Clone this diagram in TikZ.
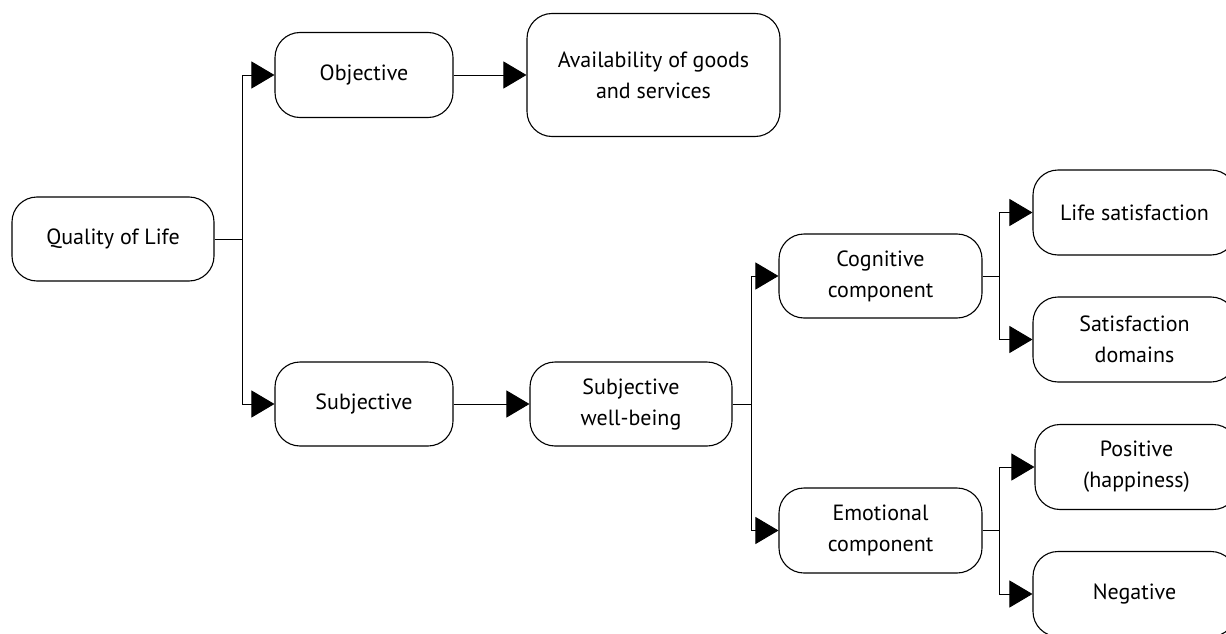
\documentclass[tikz,border=0pt]{standalone}
\usepackage{fontspec}
\setmainfont{PT Sans}
\usetikzlibrary{arrows.meta}
\begin{document}
\begin{tikzpicture}[x=1pt,y=-1pt,
  box/.style={draw,line width=1.1pt,rounded corners=25pt,align=center,
    font=\fontsize{22}{31}\selectfont,inner sep=0pt,minimum height=84pt},
  arr/.style={line width=0.9pt,-{Triangle[length=23pt,width=27pt]}},
  ln/.style={line width=0.9pt}]
\clip (0,0) rectangle (1226,634);
\useasboundingbox (0,0) rectangle (1226,634);
\node[box,minimum width=202pt] (qol) at (113,239) {Quality of Life};
\node[box,minimum width=178pt,minimum height=85pt] (obj) at (364,75) {Objective};
\node[box,minimum width=253pt,minimum height=123pt] (avail) at (653.5,75) {Availability of goods\\and services};
\node[box,minimum width=178pt] (subj) at (364,404) {Subjective};
\node[box,minimum width=202pt] (swb) at (631,404) {Subjective\\well-being};
\node[box,minimum width=203pt] (cog) at (880.5,276) {Cognitive\\component};
\node[box,minimum width=203pt,minimum height=85pt] (emo) at (880.5,530.5) {Emotional\\component};
\node[box,minimum width=203pt,minimum height=85pt] (life) at (1134.5,212.5) {Life satisfaction};
\node[box,minimum width=203pt,minimum height=85pt] (sdom) at (1134.5,339.5) {Satisfaction\\domains};
\node[box,minimum width=203pt,minimum height=85pt] (pos) at (1136.5,467) {Positive\\(happiness)};
\node[box,minimum width=203pt,minimum height=85pt] (neg) at (1134.5,594) {Negative};
\coordinate (j1) at (242,239);
\coordinate (j2) at (751,404);
\coordinate (j3) at (999,276);
\coordinate (j4) at (999,530.5);
\draw[ln] (qol.east) -- (j1);
\draw[arr] (j1) |- (obj.west);
\draw[arr] (j1) |- (subj.west);
\draw[arr] (obj.east) -- (avail.west);
\draw[arr] (subj.east) -- (swb.west);
\draw[ln] (swb.east) -- (j2);
\draw[arr] (j2) |- (cog.west);
\draw[arr] (j2) |- (emo.west);
\draw[ln] (cog.east) -- (j3);
\draw[arr] (j3) |- (life.west);
\draw[arr] (j3) |- (sdom.west);
\draw[ln] (emo.east) -- (j4);
\draw[arr] (j4) |- (pos.west);
\draw[arr] (j4) |- (neg.west);
\end{tikzpicture}
\end{document}
